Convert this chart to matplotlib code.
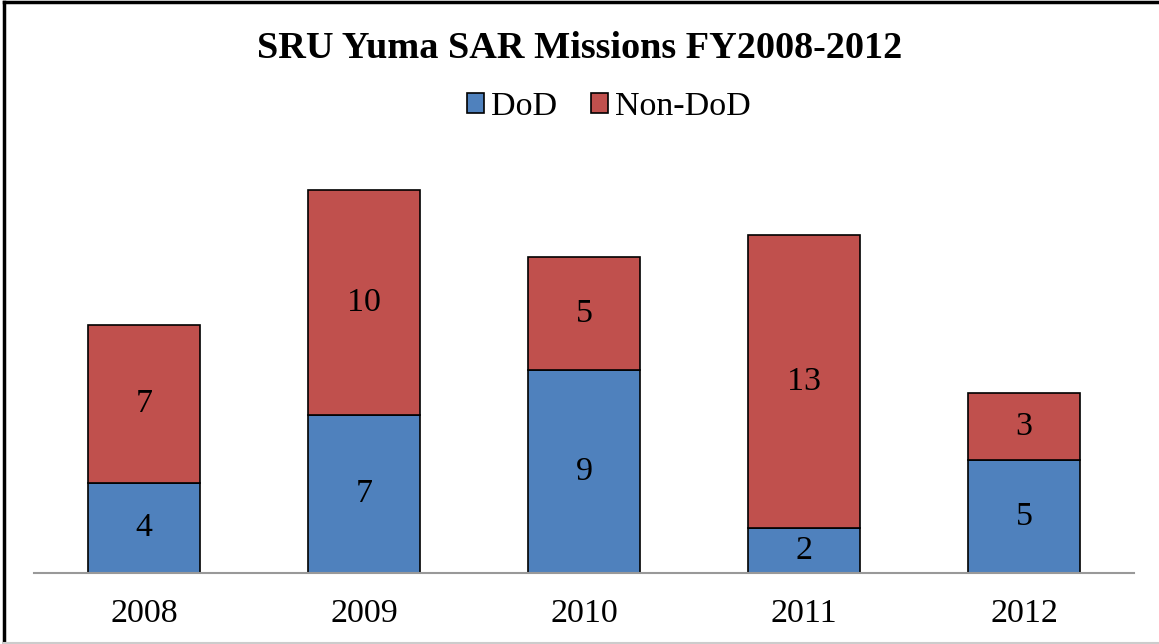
import matplotlib.pyplot as plt
from matplotlib.lines import Line2D

years = ["2008", "2009", "2010", "2011", "2012"]
dod = [4, 7, 9, 2, 5]
non_dod = [7, 10, 5, 13, 3]

plt.rcParams['font.family'] = ['Liberation Serif', 'DejaVu Serif']

fig = plt.figure(figsize=(11.59, 6.44), dpi=100)
ax = fig.add_axes([34 / 1159, 71 / 644, 1100 / 1159, 406 / 644])

x = range(len(years))
b1 = ax.bar(x, dod, width=0.51, color='#4F81BD', edgecolor='black', linewidth=1.2, label='DoD')
b2 = ax.bar(x, non_dod, width=0.51, bottom=dod, color='#C0504D', edgecolor='black', linewidth=1.2, label='Non-DoD')

for i in x:
    ax.text(i, dod[i] / 2, str(dod[i]), ha='center', va='center', fontsize=24.5)
    ax.text(i, dod[i] + non_dod[i] / 2, str(non_dod[i]), ha='center', va='center', fontsize=24.5)

ax.set_xlim(-0.5, 4.5)
ax.set_ylim(0, 18)
ax.set_xticks(list(x))
ax.set_xticklabels(years, fontsize=24.5)
ax.tick_params(axis='x', length=0, pad=18)
ax.set_yticks([])
for s in ['top', 'right', 'left']:
    ax.spines[s].set_visible(False)
ax.spines['bottom'].set_color('#999999')
ax.spines['bottom'].set_linewidth(1.5)

fig.text(0.5, 1 - 48 / 644, "SRU Yuma SAR Missions FY2008-2012", ha='center', va='center',
         fontsize=27.5, fontweight='bold')
fig.legend(handles=[b1, b2], loc='center', bbox_to_anchor=(609 / 1159, 1 - 107 / 644), ncol=2,
           frameon=False, fontsize=24.5, handlelength=0.5, handleheight=0.5,
           handletextpad=0.2, columnspacing=1.0, borderpad=0)

# borde de la figura
fig.add_artist(Line2D([4 / 1159, 4 / 1159], [0, 1 - 2 / 644], color='black', lw=2.5))
fig.add_artist(Line2D([4 / 1159, 1], [1 - 2 / 644, 1 - 2 / 644], color='black', lw=2.5))
fig.add_artist(Line2D([4 / 1159, 1], [1 / 644, 1 / 644], color='#cccccc', lw=1.5))

plt.savefig("out.png")
